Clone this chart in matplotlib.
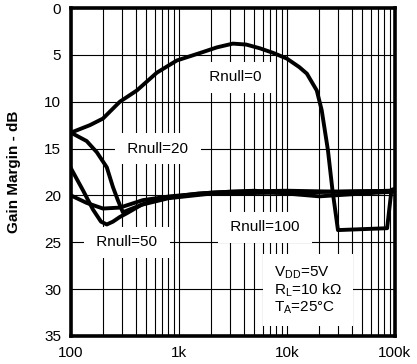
import numpy as np
import matplotlib.pyplot as plt
from matplotlib.ticker import FixedLocator, NullFormatter

plt.rcParams['font.family'] = ['Liberation Sans', 'DejaVu Sans']

# Gain margin vs frequency
f_r0 = [100, 150, 198, 284, 408, 625, 957, 1570, 2250, 3160, 4200, 5620, 7500,
        10000, 13000, 15300, 18900, 21000, 24000, 26400, 29700, 50000, 84700, 93000, 100000]
gm_r0 = [13.3, 12.5, 11.8, 10.0, 8.8, 6.9, 5.6, 4.8, 4.2, 3.8, 3.9, 4.3, 4.8,
         5.4, 6.3, 7.0, 8.8, 10.9, 15.2, 19.4, 23.7, 23.6, 23.5, 19.4, 19.3]

f_r20 = [100, 140, 174, 215, 245, 272, 303, 351, 500, 800, 1500, 3000, 10000, 30000, 100000]
gm_r20 = [13.3, 14.2, 15.4, 17.0, 19.1, 20.5, 21.8, 21.5, 20.8, 20.2, 19.8, 19.6, 19.5, 19.6, 19.5]

f_r50 = [100, 130, 160, 190, 215, 245, 284, 330, 450, 800, 2000, 10000, 30000, 100000]
gm_r50 = [17.1, 19.5, 21.5, 22.8, 23.1, 22.8, 22.3, 21.9, 21.0, 20.3, 19.8, 19.7, 19.6, 19.5]

f_r100 = [100, 140, 198, 284, 465, 825, 2000, 5000, 10000, 20000, 50000, 100000]
gm_r100 = [20.0, 20.8, 21.4, 21.3, 20.5, 20.1, 19.7, 19.5, 19.8, 20.1, 19.8, 19.6]

xticks = [100, 1000, 10000, 100000]
xlabels = ['100', '1k', '10k', '100k']
yticks = [0, 5, 10, 15, 20, 25, 30, 35]

fig = plt.figure(figsize=(4.17, 3.64), dpi=100)
ax = fig.add_axes([0.170, 0.077, 0.777, 0.901])

ax.set_xscale('log')
ax.set_xlim(100, 100000)
ax.set_ylim(35, 0)

minors = [m * 10 ** d for d in range(2, 5) for m in range(2, 10)]
ax.xaxis.set_major_locator(FixedLocator(xticks))
ax.xaxis.set_minor_locator(FixedLocator(minors))
ax.xaxis.set_minor_formatter(NullFormatter())
ax.set_xticklabels(xlabels)
ax.set_yticks(yticks)

ax.grid(True, which='major', color='black', lw=0.8)
ax.grid(True, which='minor', axis='x', color='black', lw=0.8)
ax.set_axisbelow(True)
ax.tick_params(which='both', length=0, labelsize=11)
ax.tick_params(axis='y', pad=7)
ax.tick_params(axis='x', pad=7)

for s in ax.spines.values():
    s.set_linewidth(2.6)

for f, g in [(f_r100, gm_r100), (f_r50, gm_r50), (f_r20, gm_r20), (f_r0, gm_r0)]:
    ax.plot(f, g, color='black', lw=2.8, zorder=3)

box = dict(facecolor='white', edgecolor='none', boxstyle='square,pad=0.55')
ax.text(3300, 7.4, ' Rnull=0 ', fontsize=11, ha='center', va='center', bbox=box, zorder=2)
ax.text(640, 15.0, ' Rnull=20 ', fontsize=11, ha='center', va='center', bbox=box, zorder=2)
ax.text(330, 25.0, ' Rnull=50 ', fontsize=11, ha='center', va='center', bbox=box, zorder=2)
ax.text(6250, 23.4, ' Rnull=100 ', fontsize=11, ha='center', va='center', bbox=box, zorder=2)

ax.text(7600, 30.1, '$\\mathregular{V_{DD}}$=5V\n$\\mathregular{R_L}$=10 k\u03a9\n$\\mathregular{T_A}$=25\u00b0C',
        fontsize=11, ha='left', va='center', linespacing=1.05,
        bbox=dict(facecolor='white', edgecolor='none', boxstyle='square,pad=0.7'), zorder=2)

ax.set_ylabel('Gain Margin - dB', fontsize=11, fontweight='bold', labelpad=17)

fig.savefig('out.png', dpi=100)
